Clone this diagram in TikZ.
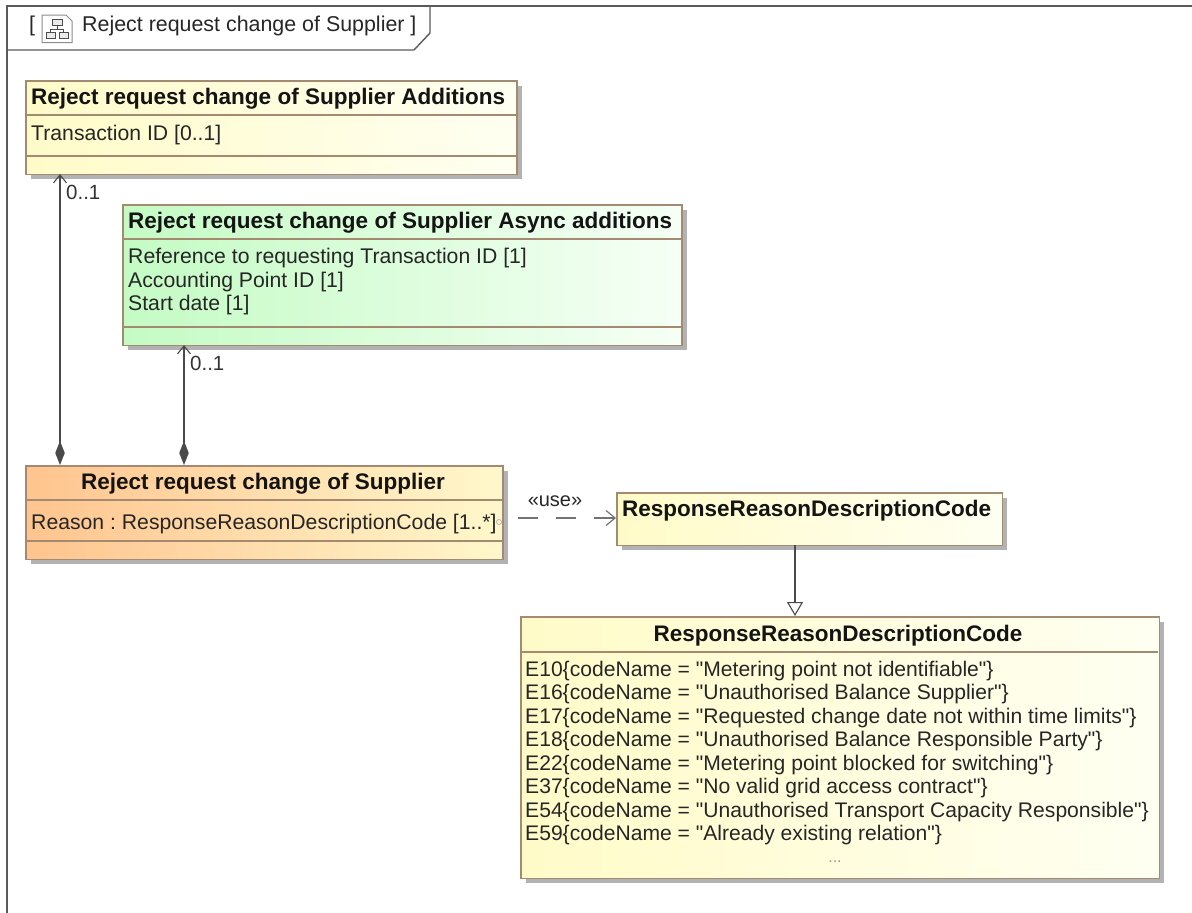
\documentclass[tikz,border=0pt]{standalone}
\usepackage{fontspec}
\setmainfont{Liberation Sans}[Ligatures=TeXOff]
\usetikzlibrary{arrows.meta,shadows,positioning}
\definecolor{edgebrown}{HTML}{A58A72}
\definecolor{ylw}{HTML}{FFFBC8}
\definecolor{ylwend}{HTML}{FFFFF2}
\definecolor{grn}{HTML}{C4FBC4}
\definecolor{grnend}{HTML}{F6FFF6}
\definecolor{org}{HTML}{FFC48E}
\definecolor{org2}{HTML}{FFF8CC}
\definecolor{framegray}{HTML}{5A5A5A}
\definecolor{linegray}{HTML}{4A4A4A}
\tikzset{
  x=1pt,y=-1pt,
  umlbox/.style={draw=edgebrown,line width=1.7pt,anchor=north west,inner sep=0pt,
    drop shadow={shadow xshift=5pt,shadow yshift=-5pt,fill=black!30,opacity=1}},
  ttl/.style={font=\fontsize{22.5}{26}\selectfont\bfseries,inner sep=0pt,text=black!92},
  attr/.style={font=\fontsize{21.2}{23.45}\selectfont,inner sep=0pt,anchor=north west,align=left,text=black!85},
  divider/.style={draw=edgebrown,line width=1.4pt},
  mult/.style={font=\fontsize{20.5}{22}\selectfont,inner sep=0pt,text=black!80},
  assoc/.style={draw=linegray,line width=1.3pt},
  frameline/.style={draw=framegray,line width=1.4pt},
}
\begin{document}
\frenchspacing
\begin{tikzpicture}
\useasboundingbox (0,0) rectangle (1192,913);
% frame
\coordinate (fTL) at (7,6);
\coordinate (fTR) at (1192,6);
\coordinate (fBL) at (7,913);
\coordinate (tabA) at (430,6);
\coordinate (tabB) at (430,33);
\coordinate (tabC) at (414,50);
\coordinate (tabD) at (7,50);
\draw[frameline] (fTR) -- (fTL) -- (fBL);
\draw[frameline] (tabA) -- (tabB) -- (tabC) -- (tabD);
% frame title
\node[font=\fontsize{21.4}{24}\selectfont,inner sep=0pt,anchor=west,text=black!85] (brL) at (29,26) {[};
\node[font=\fontsize{21.4}{24}\selectfont,inner sep=0pt,anchor=west,text=black!85] (ftitle) at (82,26) {Reject request change of Supplier ]};
% icon
\draw[draw=black!45,line width=1pt,fill=white] (42,15) -- (66,15) -- (72,21) -- (72,42.5) -- (42,42.5) -- cycle;
\draw[draw=black!70,line width=1pt,fill=black!8] (52,19) rectangle (62,25);
\draw[draw=black!70,line width=1pt,fill=black!8] (46,32) rectangle (55,38);
\draw[draw=black!70,line width=1pt,fill=black!8] (59,32) rectangle (68,38);
\draw[draw=black!70,line width=.9pt] (57,25) -- (57,29) (50.5,32) -- (50.5,29) -- (63.5,29) -- (63.5,32);
% boxes
\node[umlbox,left color=ylw,right color=ylwend,minimum width=491pt,minimum height=93.5pt] (A) at (25,80) {};
\node[umlbox,left color=grn,right color=grnend,minimum width=559pt,minimum height=140.5pt] (B) at (122,204) {};
\node[umlbox,left color=org,right color=org2,minimum width=477pt,minimum height=93.5pt] (C) at (25,465) {};
\node[umlbox,left color=ylw,right color=ylwend,minimum width=385.5pt,minimum height=52.5pt] (D) at (616,492) {};
\node[umlbox,left color=ylw,right color=ylwend,minimum width=638.5pt,minimum height=261.5pt] (E) at (520,616) {};
% dividers
\draw[divider] (25,115) -- (516,115) (25,156) -- (516,156);
\draw[divider] (122,239) -- (681,239) (122,327) -- (681,327);
\draw[divider] (25,500) -- (502,500) (25,541) -- (502,541);
\draw[divider] (520,652) -- (1158,652);
% text
\node[ttl,anchor=west] (At) at (31,99) {Reject request change of Supplier Additions};
\node[attr] (Aa) at (31,125) {Transaction ID [0..1]};
\node[ttl,anchor=west] (Bt) at (128,223) {Reject request change of Supplier Async additions};
\node[attr] (Ba) at (128,248) {Reference to requesting Transaction ID [1]\\Accounting Point ID [1]\\Start date [1]};
\node[ttl,anchor=center] (Ct) at (263,484) {Reject request change of Supplier};
\node[attr] (Ca) at (31,514) {Reason : ResponseReasonDescriptionCode [1..*]};
\node[draw=black!30,circle,line width=.8pt,inner sep=0pt,minimum size=5pt] (Cdot) at (499,522) {};
\node[ttl,anchor=west] (Dt) at (622,511) {ResponseReasonDescriptionCode};
\node[ttl,anchor=center] (Et) at (838,636) {ResponseReasonDescriptionCode};
\node[attr,font=\fontsize{21.1}{23.45}\selectfont] (Ea) at (525,661) {E10\{codeName = "Metering point not identifiable"\}\\
E16\{codeName = "Unauthorised Balance Supplier"\}\\
E17\{codeName = "Requested change date not within time limits"\}\\
E18\{codeName = "Unauthorised Balance Responsible Party"\}\\
E22\{codeName = "Metering point blocked for switching"\}\\
E37\{codeName = "No valid grid access contract"\}\\
E54\{codeName = "Unauthorised Transport Capacity Responsible"\}\\
E59\{codeName = "Already existing relation"\}};
\node[font=\fontsize{16}{18}\selectfont,inner sep=0pt,text=black!40] (Edots) at (835,862) {...};
% connectors
\coordinate (A1) at (60,174);
\coordinate (C1) at (60,465);
\coordinate (B2) at (184,345);
\coordinate (C2) at (184,465);
\draw[assoc,{Straight Barb[length=8pt,width=13pt,line width=1.1pt]}-{Diamond[length=24pt,width=9.5pt,fill=linegray]}] (A1) -- (C1);
\draw[assoc,{Straight Barb[length=8pt,width=13pt,line width=1.1pt]}-{Diamond[length=24pt,width=9.5pt,fill=linegray]}] (B2) -- (C2);
\node[mult,anchor=west] (m1) at (66,192) {0..1};
\node[mult,anchor=west] (m2) at (190,363) {0..1};
% use dependency
\coordinate (U1) at (518,518);
\draw[draw=black!55,line width=1.3pt,dash pattern=on 20pt off 18pt,-{Straight Barb[length=9pt,width=15pt,line width=1.2pt]}] (U1) -- (D.west |- U1);
\node[font=\fontsize{20}{22}\selectfont,inner sep=0pt,text=black!85] (use) at (555,501) {«use»};
% generalization
\coordinate (G1) at (795,545);
\coordinate (G2) at (795,616);
\draw[assoc,-{Triangle[open,length=14pt,width=16pt,fill=white,line width=1.1pt]}] (G1) -- (G2);
\end{tikzpicture}
\end{document}
